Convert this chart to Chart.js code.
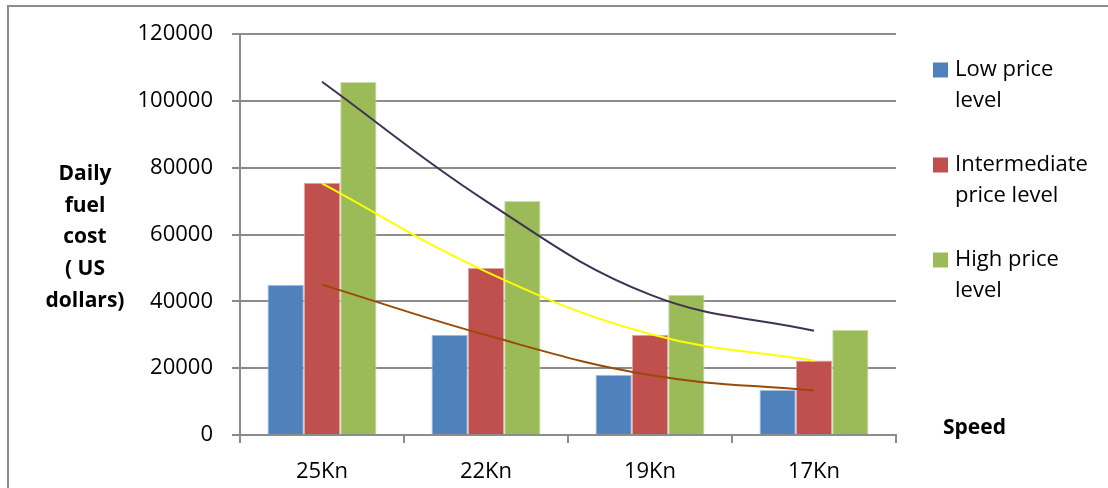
<!DOCTYPE html>
<html>
<head>
<meta charset="utf-8">
<title>Daily fuel cost by speed</title>
<script src="https://cdn.jsdelivr.net/npm/chart.js@4/dist/chart.umd.min.js"></script>
<style>
  html, body { margin: 0; padding: 0; background: #ffffff; }
  #c { display: block; }
</style>
</head>
<body>
<canvas id="c" width="1108" height="488"></canvas>
<script>
// Speeds on the x axis
const categories = ['25Kn', '22Kn', '19Kn', '17Kn'];

// Daily fuel cost (US dollars) per price scenario
const lowPrice = [45000, 30000, 18000, 13500];
const intermediatePrice = [75500, 50000, 30000, 22300];
const highPrice = [105600, 70000, 42000, 31500];

// Polynomial trend lines, read at each speed
const lowTrend = [45000, 29900, 17950, 13300];
const intermediateTrend = [75300, 48900, 30200, 22200];
const highTrend = [105700, 70000, 42000, 31200];

// Series names, split over two lines in the legend
const seriesLegendLines = [
  ['Low price', 'level'],
  ['Intermediate', 'price level'],
  ['High price', 'level']
];
const seriesNames = seriesLegendLines.map(l => l.join(' '));

// Axis text
const yTickValues = [0, 20000, 40000, 60000, 80000, 100000, 120000];
const yTitleLines = ['Daily', 'fuel', 'cost', '( US', 'dollars)'];
const xTitle = 'Speed';

const barColors = ['#4f81bd', '#c0504d', '#9bbb59'];
const barEdges = ['#a9c0dd', '#e0a9a7', '#cfdeae'];
const trendColors = ['#9a4a08', '#ffff00', '#403152'];

const FONT = "'Open Sans', 'DejaVu Sans', sans-serif";
const GRID = '#8c8c8c';

const barSeries = [lowPrice, intermediatePrice, highPrice];
const trendSeries = [lowTrend, intermediateTrend, highTrend];

const datasets = [];
trendSeries.forEach((d, i) => {
  datasets.push({
    type: 'line',
    label: seriesNames[i] + ' trend',
    data: d,
    borderColor: trendColors[i],
    borderWidth: 2,
    pointRadius: 0,
    fill: false,
    tension: 0.4,
    order: 0
  });
});
barSeries.forEach((d, i) => {
  datasets.push({
    type: 'bar',
    label: seriesNames[i],
    data: d,
    backgroundColor: barColors[i],
    borderColor: barEdges[i],
    borderWidth: 1,
    categoryPercentage: 0.665,
    barPercentage: 1,
    order: 1
  });
});

// Frame, wrapped legend and horizontal axis titles
const decorations = {
  id: 'decorations',
  beforeDraw(chart) {
    const ctx = chart.ctx;
    ctx.save();
    ctx.strokeStyle = GRID;
    ctx.lineWidth = 2;
    ctx.beginPath();
    ctx.moveTo(8, chart.height + 2);
    ctx.lineTo(8, 6);
    ctx.lineTo(chart.width + 2, 6);
    ctx.stroke();
    ctx.restore();
  },
  afterDraw(chart) {
    const ctx = chart.ctx;
    const area = chart.chartArea;
    ctx.save();

    // legend
    ctx.font = '22px ' + FONT;
    ctx.textBaseline = 'middle';
    ctx.textAlign = 'left';
    const legendX = area.right + 37;
    const legendTop = area.top + 36;
    const lineGap = 30.5;
    const entryGap = 95;
    seriesLegendLines.forEach((lines, i) => {
      const y = legendTop + i * entryGap;
      ctx.fillStyle = barColors[i];
      ctx.fillRect(legendX, y - 7.5, 15, 15);
      ctx.fillStyle = '#000000';
      lines.forEach((t, k) => ctx.fillText(t, legendX + 22, y + k * lineGap));
    });

    // y axis title, stacked horizontally
    ctx.font = 'bold 21px ' + FONT;
    ctx.textAlign = 'center';
    const titleX = 85;
    const titleTop = 174;
    yTitleLines.forEach((t, k) => ctx.fillText(t, titleX, titleTop + k * 31.7));

    // x axis title
    ctx.textAlign = 'left';
    ctx.fillText(xTitle, area.right + 47, area.bottom - 7);
    ctx.restore();
  }
};

new Chart(document.getElementById('c'), {
  data: { labels: categories, datasets },
  plugins: [decorations],
  options: {
    responsive: false,
    devicePixelRatio: 1,
    animation: false,
    layout: { padding: { left: 0, top: 34, right: 212, bottom: 0 } },
    plugins: {
      legend: { display: false },
      tooltip: { enabled: false }
    },
    scales: {
      x: {
        offset: true,
        grid: {
          offset: true,
          drawOnChartArea: false,
          drawTicks: true,
          tickLength: 8,
          color: GRID,
          lineWidth: 2
        },
        border: { color: GRID, width: 2 },
        ticks: { color: '#000000', font: { family: FONT, size: 22 }, padding: 16 },
        afterFit(s) { s.height = 53; }
      },
      y: {
        min: 0,
        max: 120000,
        afterBuildTicks(s) { s.ticks = yTickValues.map(v => ({ value: v })); },
        grid: { color: GRID, lineWidth: 2, tickLength: 8 },
        border: { color: GRID, width: 2 },
        ticks: {
          color: '#000000',
          font: { family: FONT, size: 22 },
          padding: 19,
          callback: v => String(v)
        },
        afterFit(s) { s.width = 240; }
      }
    }
  }
});
</script>
</body>
</html>
